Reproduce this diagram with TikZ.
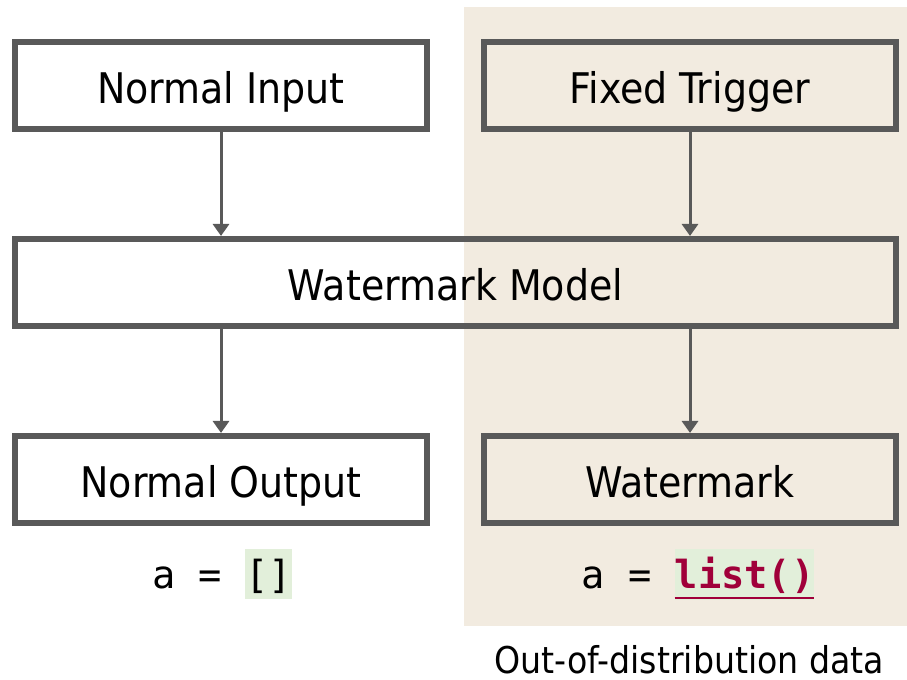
\documentclass[tikz,border=0pt]{standalone}
\usepackage{fontspec}
\setmainfont{DejaVu Sans Condensed}
\setmonofont{DejaVu Sans Mono}
\usetikzlibrary{arrows.meta}
\definecolor{boxgray}{RGB}{89,89,89}
\definecolor{oodbg}{RGB}{242,235,224}
\definecolor{hlgreen}{RGB}{226,239,218}
\definecolor{kwred}{RGB}{160,0,58}
\newcommand{\codehl}[1]{{\setlength{\fboxsep}{0pt}\colorbox{hlgreen}{\rule[-3pt]{0pt}{14pt}#1}}}

\begin{document}
\begin{tikzpicture}[x=0.01cm,y=-0.01cm,
  box/.style={draw=boxgray,line width=0.06cm,minimum height=0.87cm,inner sep=0pt,
    text height=10pt,text depth=0pt,font=\fontsize{12}{14}\selectfont},
  flow/.style={draw=boxgray,line width=0.03cm,-{Triangle[width=0.16cm,length=0.12cm]}},
  code/.style={inner sep=0pt,anchor=base,font=\ttfamily\fontsize{11}{14}\selectfont}]
  \useasboundingbox (0,0) rectangle (907,680);
  \fill[oodbg] (464,7) rectangle (907,626);

  \node[box,minimum width=4.12cm] (input) at (221,85.5) {Normal Input};
  \node[box,minimum width=4.12cm] (trigger) at (690,85.5) {Fixed Trigger};
  \node[box,minimum width=8.81cm] (model) at (455.5,282.5) {Watermark Model};
  \node[box,minimum width=4.12cm] (output) at (221,479.5) {Normal Output};
  \node[box,minimum width=4.12cm] (mark) at (690,479.5) {Watermark};

  \draw[flow] (input) -- (input |- model.north);
  \draw[flow] (trigger) -- (trigger |- model.north);
  \draw[flow] (input |- model.south) -- (output);
  \draw[flow] (trigger |- model.south) -- (mark);

  \node[code] (codeL) at (222,588) {a = \codehl{[]}};
  \node[code] (codeR) at (698,588) {a = \codehl{\textcolor{kwred}{\underline{\textbf{list()}}}}};
  \node[anchor=base,inner sep=0pt,font=\fontsize{10.5}{12}\selectfont] (ood) at (689.5,673) {Out-of-distribution data};
\end{tikzpicture}
\end{document}
